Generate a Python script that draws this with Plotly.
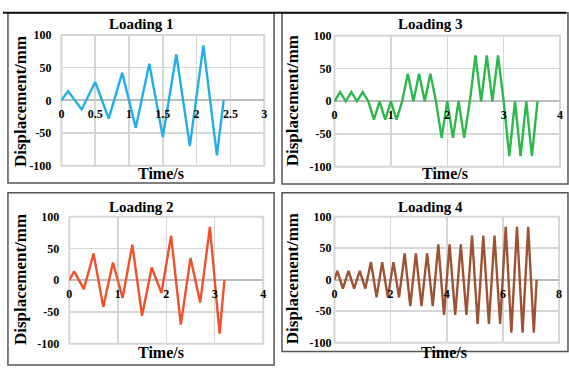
import plotly.graph_objects as go

# ---------------- data ----------------
load1_t = [0, 0.1, 0.3, 0.5, 0.7, 0.9, 1.1, 1.3, 1.5, 1.7, 1.9, 2.1, 2.3, 2.4]
load1_d = [0, 14, -14, 28, -28, 42, -42, 56, -56, 70, -70, 84, -84, 0]

load2_t = [0, 0.1, 0.3, 0.5, 0.7, 0.9, 1.1, 1.3, 1.5, 1.7, 1.9, 2.1, 2.3, 2.5, 2.7, 2.9, 3.1, 3.2]
load2_d = [0, 14, -14, 42, -42, 28, -28, 56, -56, 20, -20, 70, -70, 35, -35, 84, -84, 0]

load3_t = [0, 0.1, 0.2, 0.3, 0.4, 0.5, 0.6, 0.7, 0.8, 0.9, 1.0, 1.1, 1.2, 1.3, 1.4, 1.5, 1.6, 1.7, 1.8,
           1.9, 2.0, 2.1, 2.2, 2.3, 2.4, 2.5, 2.6, 2.7, 2.8, 2.9, 3.0, 3.1, 3.2, 3.3, 3.4, 3.5, 3.6]
load3_d = [0, 14, 0, 14, 0, 14, 0, -28, 0, -28, 0, -28, 0, 42, 0, 42, 0, 42, 0,
           -56, 0, -56, 0, -56, 0, 70, 0, 70, 0, 70, 0, -84, 0, -84, 0, -84, 0]

load4_t = [0, 0.1, 0.3, 0.5, 0.7, 0.9, 1.1, 1.3, 1.5, 1.7, 1.9, 2.1, 2.3, 2.5, 2.7, 2.9, 3.1, 3.3, 3.5,
           3.7, 3.9, 4.1, 4.3, 4.5, 4.7, 4.9, 5.1, 5.3, 5.5, 5.7, 5.9, 6.1, 6.3, 6.5, 6.7, 6.9, 7.1, 7.2]
load4_d = [0, 14, -14, 14, -14, 14, -14, 28, -28, 28, -28, 28, -28, 42, -42, 42, -42, 42, -42,
           56, -56, 56, -56, 56, -56, 70, -70, 70, -70, 70, -70, 84, -84, 84, -84, 84, -84, 0]

titles = ["Loading 1", "Loading 3", "Loading 2", "Loading 4"]
y_ticks = [-100, -50, 0, 50, 100]
y_ticktext = ["-100", "-50", "0", "50", "100"]
x_ticks = [[0, 0.5, 1, 1.5, 2, 2.5, 3], [0, 1, 2, 3, 4], [0, 1, 2, 3, 4], [0, 2, 4, 6, 8]]
x_ticktext = [["0", "0.5", "1", "1.5", "2", "2.5", "3"], ["0", "1", "2", "3", "4"],
              ["0", "1", "2", "3", "4"], ["0", "2", "4", "6", "8"]]
x_ranges = [[0, 3], [0, 4], [0, 4], [0, 8]]

# ---------------- layout geometry (pixels) ----------------
W, H = 569, 369
def px(x): return x / W
def py(y): return 1 - y / H

plots = [  # x0, x1, ytop, ybottom
    (59, 264, 29, 165),
    (335, 563, 30, 166),
    (67, 263, 218, 350),
    (335, 562, 218, 349),
]
colors = ["#22AEE6", "#2DB84C", "#F2502A", "#9E5233"]
series = [(load1_t, load1_d), (load3_t, load3_d), (load2_t, load2_d), (load4_t, load4_d)]

FONT = "Liberation Serif"
TICKFONT = dict(family=FONT, size=12, color="black")
def bold(lst): return ["<b>" + s + "</b>" for s in lst]

fig = go.Figure()
layout = dict(width=W, height=H, margin=dict(l=0, r=0, t=0, b=0),
              paper_bgcolor="white", plot_bgcolor="white", showlegend=False,
              font=dict(family=FONT, color="black"))
shapes = []
annotations = []

title_pos = [(140, 18), (432, 18), (140, 208), (432, 208)]
ytitle_pos = [(17, 98), (292, 97), (17, 283), (292, 282)]
xtitle_pos = [(160, 173), (447, 173), (160, 359), (446, 359)]

def label(text, x, y, size, angle=0):
    return dict(text="<b>" + text + "</b>", x=px(x), y=py(y), xref="paper", yref="paper",
                xanchor="center", yanchor="middle", showarrow=False, textangle=angle,
                font=dict(family=FONT, size=size, color="black"))

for i in range(4):
    n = "" if i == 0 else str(i + 1)
    x0, x1, yt, yb = plots[i]
    t, d = series[i]
    fig.add_trace(go.Scatter(x=t, y=d, mode="lines", xaxis="x" + n, yaxis="y" + n,
                             line=dict(color=colors[i], width=2.4)))
    zero_y = py((yt + yb) / 2)
    layout["xaxis" + n] = dict(domain=[px(x0), px(x1)], range=x_ranges[i],
                               tickvals=x_ticks[i], ticktext=bold(x_ticktext[i]),
                               anchor="free", position=zero_y, showline=False,
                               showgrid=True, gridcolor="#d6d6d6", gridwidth=1.5, zeroline=False,
                               ticks="", ticklabelstandoff=5, tickfont=TICKFONT,
                               fixedrange=True)
    layout["yaxis" + n] = dict(domain=[py(yb), py(yt)], range=[-100, 100],
                               tickvals=y_ticks, ticktext=bold(y_ticktext),
                               anchor="x" + n, showline=False, showgrid=True, gridcolor="#d6d6d6",
                               gridwidth=1.5, zeroline=True, zerolinecolor="#bdbdbd", zerolinewidth=2,
                               ticks="", ticklabelstandoff=2 if i in (1, 3) else 9,
                               tickfont=TICKFONT, fixedrange=True)
    shapes.append(dict(type="rect", xref="x" + n + " domain", yref="y" + n + " domain",
                       x0=0, x1=1, y0=0, y1=1, line=dict(color="#d6d6d6", width=2), layer="below"))
    annotations.append(label(titles[i], *title_pos[i], 15))
    annotations.append(label("Displacement/mm", *ytitle_pos[i], 17, -90))
    annotations.append(label("Time/s", *xtitle_pos[i], 16))

# panel frames
frames = [(5, 274, 6, 183), (282, 571, 6, 184), (5, 274, 193, 372), (282, 571, 193, 358)]
for (a, b, c, e) in frames:
    shapes.append(dict(type="rect", xref="paper", yref="paper", x0=px(a), x1=px(b), y0=py(e), y1=py(c),
                       line=dict(color="#555555", width=1.5)))
shapes.append(dict(type="line", xref="paper", yref="paper", x0=0, x1=1, y0=py(6), y1=py(6),
                   line=dict(color="#111111", width=2)))

layout["shapes"] = shapes
layout["annotations"] = annotations
fig.update_layout(**layout)
fig.write_html("out.html", config={"displayModeBar": False, "staticPlot": True},
               post_script="document.body.style.margin='0';document.body.style.padding='0';"
                           "document.body.style.overflow='hidden';")
